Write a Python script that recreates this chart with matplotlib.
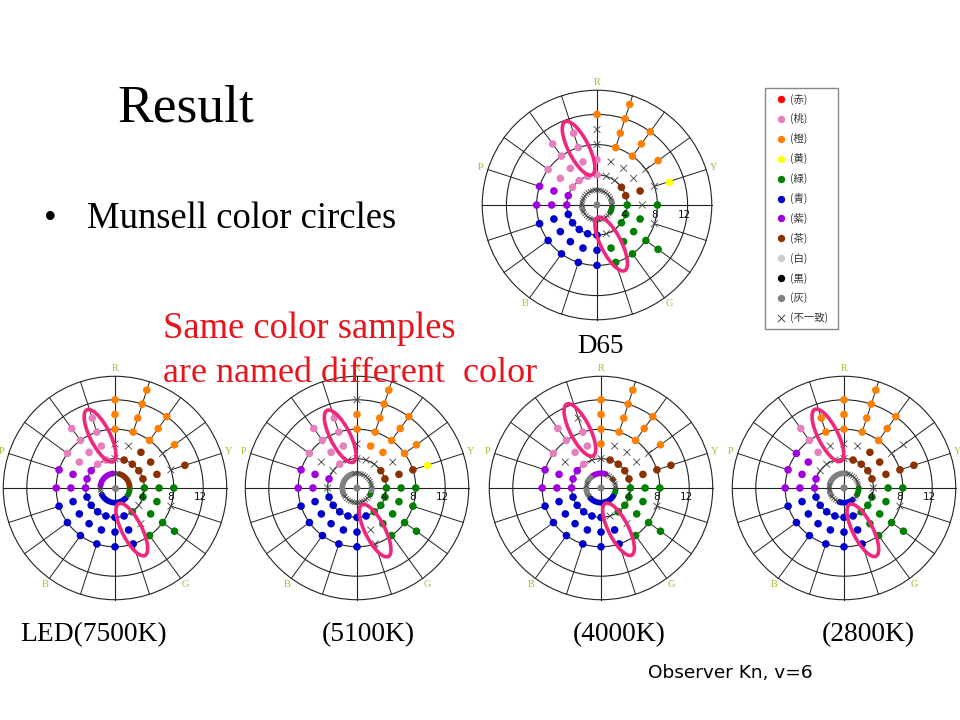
import numpy as np
import matplotlib.pyplot as plt
from matplotlib.patches import Circle, Ellipse, Rectangle

W, H = 960, 720

# 20 Munsell hues, clockwise from R at the top (degrees, counter-clockwise from +x)
HUE_DEG = [90, 72, 54, 36, 18, 0, -18, -36, -54, -72,
           -90, -108, -126, -144, -162, 180, 162, 144, 126, 108]
# highest chroma sample of each hue (samples at chroma 4, 6, 8 ...)
MAX_CHROMA = [12, 14, 12, 10, 10, 8, 8, 10, 8, 8, 8, 8, 8, 8, 8, 8, 8, 8, 10, 10]
# chroma 2 ring has 40 hues
INNER_DEG = [90, 81, 72, 63, 54, 45, 36, 27, 18, 9, 0, -9, -18, -27, -36, -45,
             -54, -63, -72, -81, -90, -99, -108, -117, -126, -135, -144, -153,
             -162, -171, 180, 171, 162, 153, 144, 135, 126, 117, 108, 99]

# colour name codes: r red, p pink, o orange, y yellow, g green, b blue, v purple,
# n brown, w white, k black, a gray, x not agreed
D65_OUTER = ["ppxxo", "xxoooo", "xxooo", "nxxo", "nnxy", "gxg", "ggx", "gggg", "xgg", "xgg",
             "bbb", "bbb", "bbb", "bbb", "bbb", "vvv", "vvv", "ppp", "pppp", "pppp"]
D65_INNER = "xxxxxxxxaaxgggxxxxxxxxxxxxxxaaxxxxxxxxxx"
K7500_OUTER = ["xxooo", "nxoooo", "nnooo", "nnxo", "nnxn", "ggg", "ggx", "xggg", "gxg", "bbb",
               "bbb", "bbb", "bbb", "bbb", "bbb", "vvv", "vvv", "vpp", "pppp", "pppp"]
K7500_INNER = "xxnnnnnnnnggggxbbbbbbbbbbbbbxxxvvvvvvvvv"
K5100_OUTER = ["xxoox", "xooooo", "xoooo", "nxoo", "nnny", "ggg", "ggg", "gggg", "ggg", "bxx",
               "bbb", "bbb", "bbb", "bbb", "bbb", "xvv", "vvv", "xxp", "pppp", "xppp"]
K5100_INNER = "xxxxxxxxxxaaggxxxxxxxxxxxxxaaaaaaaaaaaax"
K4000_OUTER = ["xoooo", "nxoooo", "nxooo", "nxxo", "nnnn", "ggg", "ggx", "gggg", "gxg", "xbb",
               "bbb", "bbb", "bbb", "bbb", "bbb", "vvv", "vvv", "vxp", "pppp", "xppx"]
K4000_INNER = "vvvxxxnxxxxgggbbbbbbbbbbbbxaaaaxxaaavvvv"
K2800_OUTER = ["xxooo", "nxoooo", "nnooo", "nnxx", "nnnn", "xgg", "ggx", "gggg", "ggg", "bbb",
               "bbb", "bbb", "bbb", "bbb", "bbb", "vvv", "vvv", "xvv", "xppp", "xxoo"]
K2800_INNER = "aaxxxxxxxxggggxxbbbbbbbxxxxaaxxxaaaaaaaa"

# highlighted regions: (hue deg, chroma) of ellipse centres
D65_RINGS = [(108, 7.9), (-70, 5.5)]
K7500_RINGS = [(106, 7.4), (-68, 6.1)]
K5100_RINGS = [(108, 7.4), (-67, 6.3)]
K4000_RINGS = [(110, 8.4), (-67, 6.1)]
K2800_RINGS = [(107, 7.5), (-66, 6.3)]

COLORS = {'r': '#ff0000', 'p': '#e67fc0', 'o': '#ff8000', 'y': '#ffff00',
          'g': '#008000', 'b': '#0000cc', 'v': '#a000e0', 'n': '#8b3000',
          'w': '#cccccc', 'k': '#000000', 'a': '#808080'}
LEGEND_KEYS = ['r', 'p', 'o', 'y', 'g', 'b', 'v', 'n', 'w', 'k', 'a']
LEGEND_TEXT = ['(赤)', '(桃)', '(橙)', '(黄)', '(緑)', '(青)', '(紫)', '(茶)',
               '(白)', '(黒)', '(灰)', '(不一致)']

R_OUT = 15.2
SERIF = 'Liberation Serif'
HUE_LABEL_COLOR = '#a8bc30'
RING_COLOR = '#f0287d'
CJK = ['Noto Sans CJK JP', 'DejaVu Sans']


def chart_axes(fig, cx, cy, s, half=17.0):
    side = 2 * half * s
    ax = fig.add_axes([(cx - half * s) / W, (H - cy - half * s) / H, side / W, side / H])
    ax.set_xlim(-half, half)
    ax.set_ylim(-half, half)
    ax.set_aspect('equal')
    ax.axis('off')
    ax.patch.set_alpha(0)
    return ax


def draw_chart(ax, outer, inner, rings):
    lc = '#222222'
    for r in [4, 8, 12, R_OUT]:
        ax.add_patch(Circle((0, 0), r, fill=False, ec=lc, lw=0.8))
    ax.plot([-R_OUT, R_OUT], [0, 0], color=lc, lw=0.8)
    ax.plot([0, 0], [-R_OUT, R_OUT], color=lc, lw=0.8)
    for d in HUE_DEG:
        t = np.radians(d)
        ax.plot([8 * np.cos(t), R_OUT * np.cos(t)], [8 * np.sin(t), R_OUT * np.sin(t)],
                color=lc, lw=0.7)
    for lab, c in [('4', 4), ('8', 8), ('12', 12)]:
        ax.text(c - 0.4, -0.6, lab, fontsize=7.5, ha='center', va='top', color='#111111',
                zorder=5)
    for lab, d in [('R', 90), ('Y', 18), ('G', -54), ('B', -126), ('P', 162)]:
        t = np.radians(d)
        ax.text(16.2 * np.cos(t), 16.2 * np.sin(t), lab, fontsize=7.5, family=SERIF,
                color=HUE_LABEL_COLOR, ha='center', va='center')

    xs, ys, cs, sz = [], [], [], []
    for d, codes in zip(HUE_DEG, outer):
        for i, code in enumerate(codes):
            c = 4 + 2 * i
            xs.append(c * np.cos(np.radians(d)))
            ys.append(c * np.sin(np.radians(d)))
            cs.append(code)
            sz.append(30)
    for d, code in zip(INNER_DEG, inner):
        xs.append(2 * np.cos(np.radians(d)))
        ys.append(2 * np.sin(np.radians(d)))
        cs.append(code)
        sz.append(18)
    xs.append(0)
    ys.append(0)
    cs.append('a')
    sz.append(26)
    xs, ys, cs, sz = map(np.array, (xs, ys, cs, sz))
    for key, col in COLORS.items():
        m = cs == key
        if m.any():
            ax.scatter(xs[m], ys[m], s=sz[m], color=col, lw=0, zorder=3)
    m = cs == 'x'
    ax.scatter(xs[m], ys[m], s=np.where(sz[m] > 20, 24, 11), marker='x', color='#444444',
               lw=0.6, zorder=3)

    for d, c in rings:
        t = np.radians(d)
        ax.add_patch(Ellipse((c * np.cos(t), c * np.sin(t)), 7.9, 2.7, angle=-63,
                             fill=False, ec=RING_COLOR, lw=2.6, zorder=4))


fig = plt.figure(figsize=(9.6, 7.2), dpi=100)
fig.patch.set_facecolor('white')

draw_chart(chart_axes(fig, 597, 205, 7.55), D65_OUTER, D65_INNER, D65_RINGS)
bottom = [(115, K7500_OUTER, K7500_INNER, K7500_RINGS),
          (357, K5100_OUTER, K5100_INNER, K5100_RINGS),
          (601, K4000_OUTER, K4000_INNER, K4000_RINGS),
          (844, K2800_OUTER, K2800_INNER, K2800_RINGS)]
for cx, o, i, r in bottom:
    draw_chart(chart_axes(fig, cx, 488, 7.35), o, i, r)

# slide texts and legend
ov = fig.add_axes([0, 0, 1, 1])
ov.set_xlim(0, W)
ov.set_ylim(H, 0)
ov.axis('off')
ov.patch.set_alpha(0)

ov.text(117, 122, 'Result', family=SERIF, fontsize=38.5, va='baseline')
ov.text(44, 228, '\u2022', family=SERIF, fontsize=26, va='baseline')
ov.text(87, 228, 'Munsell color circles', family=SERIF, fontsize=26.4, va='baseline')
ov.text(163, 338, 'Same color samples', family=SERIF, fontsize=26.4, va='baseline',
        color='#e8141c')
ov.text(163, 382, 'are named different  color', family=SERIF, fontsize=26, va='baseline',
        color='#e8141c')
ov.text(577, 353, 'D65', family=SERIF, fontsize=19.5, va='baseline')
for x, t in [(20, 'LED(7500K)'), (322, '(5100K)'), (573, '(4000K)'), (822, '(2800K)')]:
    ov.text(x, 641, t, family=SERIF, fontsize=19.8, va='baseline')
ov.text(648, 678, 'Observer Kn, v=6', family='DejaVu Sans', fontsize=13.3, va='baseline')

ov.add_patch(Rectangle((765, 88), 73, 241, fill=False, ec='#888888', lw=1))
for i, key in enumerate(LEGEND_KEYS):
    y = 99 + 19.9 * i
    ov.scatter([781], [y], s=28, color=COLORS[key], lw=0)
    ov.text(790, y, LEGEND_TEXT[i], family=CJK, fontsize=7.5, va='center', color='#333333')
ov.scatter([781], [318], s=26, marker='x', color='#444444', lw=0.7)
ov.text(790, 318, LEGEND_TEXT[-1], family=CJK, fontsize=7.5, va='center', color='#333333')

fig.savefig('out.png', dpi=100)
